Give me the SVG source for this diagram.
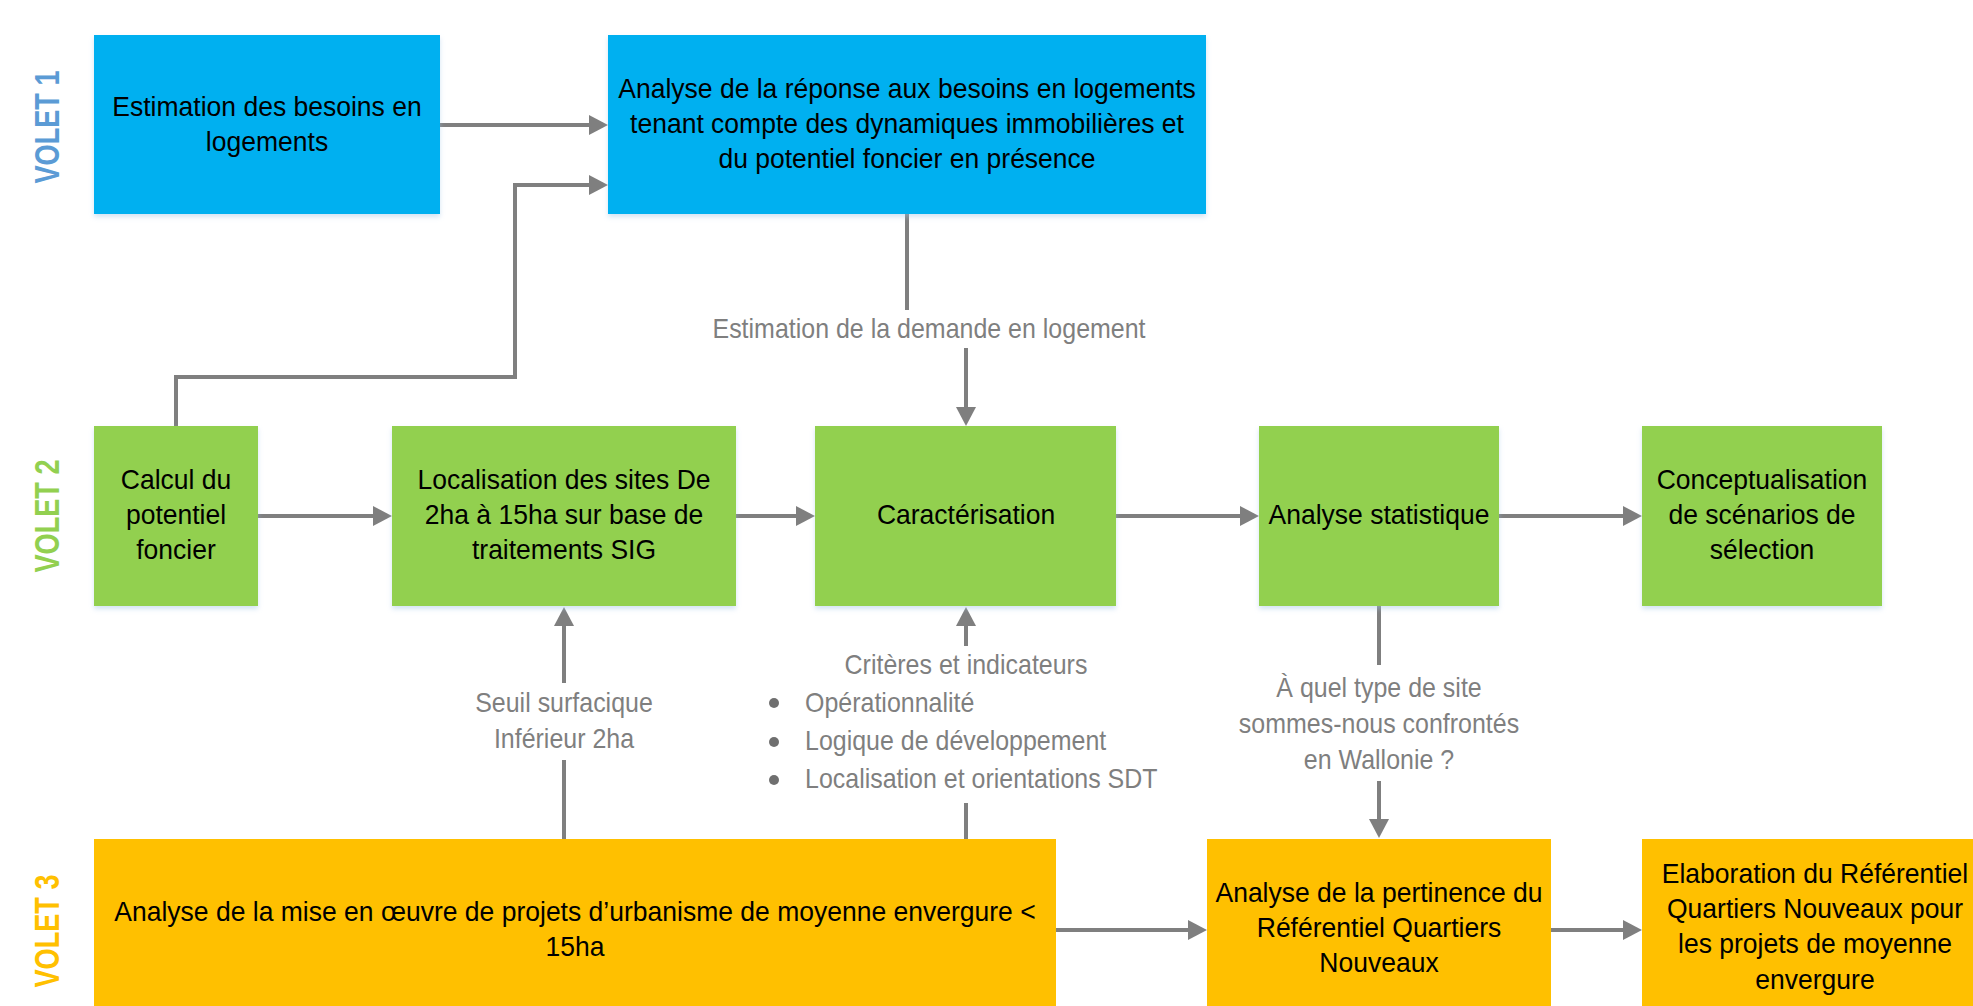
<svg xmlns="http://www.w3.org/2000/svg" width="1973" height="1006" viewBox="0 0 1973 1006">
<style>
.box text{font-family:"Liberation Sans",Arial,sans-serif;font-size:28.5px;fill:#000;text-anchor:middle}
.blue{fill:#00b0f0}
.green{fill:#92d050}
.orange{fill:#ffc000}
.lbl{font-family:"Liberation Sans",Arial,sans-serif;font-size:27px;fill:#7f7f7f;text-anchor:middle}
.lblL{font-family:"Liberation Sans",Arial,sans-serif;font-size:27px;fill:#7f7f7f}
.volet{font-family:"Liberation Sans",Arial,sans-serif;font-size:35px;font-weight:bold;text-anchor:middle}
.conn{fill:none;stroke:#7f7f7f;stroke-width:4}
</style>
<defs>
<marker id="arr" markerUnits="userSpaceOnUse" markerWidth="19" markerHeight="20" refX="0" refY="10" orient="auto" viewBox="0 0 19 20">
<path d="M0,0 L19,10 L0,20 z" fill="#7f7f7f"/>
</marker>
<filter id="sh" x="-5%" y="-5%" width="110%" height="120%">
<feDropShadow dx="0" dy="3" stdDeviation="2.5" flood-color="#9dc3e6" flood-opacity="0.45"/>
</filter>
</defs>
<rect width="1973" height="1006" fill="#fff"/>

<g id="volets">
<text class="volet" fill="#5b9bd5" transform="translate(59,127) rotate(-90)" textLength="113" lengthAdjust="spacingAndGlyphs">VOLET 1</text>
<text class="volet" fill="#92d050" transform="translate(59,516) rotate(-90)" textLength="113" lengthAdjust="spacingAndGlyphs">VOLET 2</text>
<text class="volet" fill="#ffc000" transform="translate(59,931) rotate(-90)" textLength="113" lengthAdjust="spacingAndGlyphs">VOLET 3</text>
</g>

<g id="connectors">
<path class="conn" d="M440,125 H589" marker-end="url(#arr)"/>
<path class="conn" d="M176,426 V377 H515 V185 H589" marker-end="url(#arr)"/>
<path class="conn" d="M907,214 V310"/>
<path class="conn" d="M966,348 V407" marker-end="url(#arr)"/>
<path class="conn" d="M258,516 H373" marker-end="url(#arr)"/>
<path class="conn" d="M736,516 H796" marker-end="url(#arr)"/>
<path class="conn" d="M1116,516 H1240" marker-end="url(#arr)"/>
<path class="conn" d="M1499,516 H1623" marker-end="url(#arr)"/>
<path class="conn" d="M564,839 V760"/>
<path class="conn" d="M564,683 V626" marker-end="url(#arr)"/>
<path class="conn" d="M966,839 V803"/>
<path class="conn" d="M966,646 V626" marker-end="url(#arr)"/>
<path class="conn" d="M1379,606 V665"/>
<path class="conn" d="M1379,781 V819" marker-end="url(#arr)"/>
<path class="conn" d="M1056,930 H1188" marker-end="url(#arr)"/>
<path class="conn" d="M1551,930 H1623" marker-end="url(#arr)"/>
</g>

<g id="labels">
<g transform="translate(929,0) scale(0.925,1)"><text class="lbl" x="0" y="338">Estimation de la demande en logement</text></g>
<g transform="translate(564,0) scale(0.925,1)">
<text class="lbl" x="0" y="712">Seuil surfacique</text>
<text class="lbl" x="0" y="748">Inférieur 2ha</text>
</g>
<g transform="translate(966,0) scale(0.925,1)"><text class="lbl" x="0" y="674">Critères et indicateurs</text></g>
<circle cx="774" cy="703" r="5" fill="#6f6f6f"/>
<circle cx="774" cy="742" r="5" fill="#6f6f6f"/>
<circle cx="774" cy="780" r="5" fill="#6f6f6f"/>
<g transform="translate(805,0) scale(0.925,1)">
<text class="lblL" x="0" y="712">Opérationnalité</text>
<text class="lblL" x="0" y="750">Logique de développement</text>
<text class="lblL" x="0" y="788">Localisation et orientations SDT</text>
</g>
<g transform="translate(1379,0) scale(0.925,1)">
<text class="lbl" x="0" y="697">À quel type de site</text>
<text class="lbl" x="0" y="733">sommes-nous confrontés</text>
<text class="lbl" x="0" y="769">en Wallonie ?</text>
</g>
</g>

<g id="n-besoins" class="box">
<rect class="blue" x="94" y="35" width="346" height="179" filter="url(#sh)"/>
<g transform="translate(267,0) scale(0.93,1)">
<text x="0" y="116">Estimation des besoins en</text>
<text x="0" y="151">logements</text>
</g>
</g>
<g id="n-reponse" class="box">
<rect class="blue" x="608" y="35" width="598" height="179" filter="url(#sh)"/>
<g transform="translate(907,0) scale(0.93,1)">
<text x="0" y="98">Analyse de la réponse aux besoins en logements</text>
<text x="0" y="133">tenant compte des dynamiques immobilières et</text>
<text x="0" y="168">du potentiel foncier en présence</text>
</g>
</g>

<g id="n-calcul" class="box">
<rect class="green" x="94" y="426" width="164" height="180" filter="url(#sh)"/>
<g transform="translate(176,0) scale(0.93,1)">
<text x="0" y="489">Calcul du</text>
<text x="0" y="524">potentiel</text>
<text x="0" y="559">foncier</text>
</g>
</g>
<g id="n-localisation" class="box">
<rect class="green" x="392" y="426" width="344" height="180" filter="url(#sh)"/>
<g transform="translate(564,0) scale(0.93,1)">
<text x="0" y="489">Localisation des sites De</text>
<text x="0" y="524">2ha à 15ha sur base de</text>
<text x="0" y="559">traitements SIG</text>
</g>
</g>
<g id="n-caracterisation" class="box">
<rect class="green" x="815" y="426" width="301" height="180" filter="url(#sh)"/>
<g transform="translate(966,0) scale(0.93,1)">
<text x="0" y="524">Caractérisation</text>
</g>
</g>
<g id="n-statistique" class="box">
<rect class="green" x="1259" y="426" width="240" height="180" filter="url(#sh)"/>
<g transform="translate(1379,0) scale(0.93,1)">
<text x="0" y="524">Analyse statistique</text>
</g>
</g>
<g id="n-conceptualisation" class="box">
<rect class="green" x="1642" y="426" width="240" height="180" filter="url(#sh)"/>
<g transform="translate(1762,0) scale(0.93,1)">
<text x="0" y="489">Conceptualisation</text>
<text x="0" y="524">de scénarios de</text>
<text x="0" y="559">sélection</text>
</g>
</g>

<g id="n-miseenoeuvre" class="box">
<rect class="orange" x="94" y="839" width="962" height="180"/>
<g transform="translate(575,0) scale(0.93,1)">
<text x="0" y="921">Analyse de la mise en œuvre de projets d’urbanisme de moyenne envergure &lt;</text>
<text x="0" y="956">15ha</text>
</g>
</g>
<g id="n-pertinence" class="box">
<rect class="orange" x="1207" y="839" width="344" height="180"/>
<g transform="translate(1379,0) scale(0.93,1)">
<text x="0" y="902">Analyse de la pertinence du</text>
<text x="0" y="937">Référentiel Quartiers</text>
<text x="0" y="972">Nouveaux</text>
</g>
</g>
<g id="n-elaboration" class="box">
<rect class="orange" x="1642" y="839" width="347" height="180"/>
<g transform="translate(1815,0) scale(0.93,1)">
<text x="0" y="883">Elaboration du Référentiel</text>
<text x="0" y="918">Quartiers Nouveaux pour</text>
<text x="0" y="953">les projets de moyenne</text>
<text x="0" y="989">envergure</text>
</g>
</g>
</svg>
